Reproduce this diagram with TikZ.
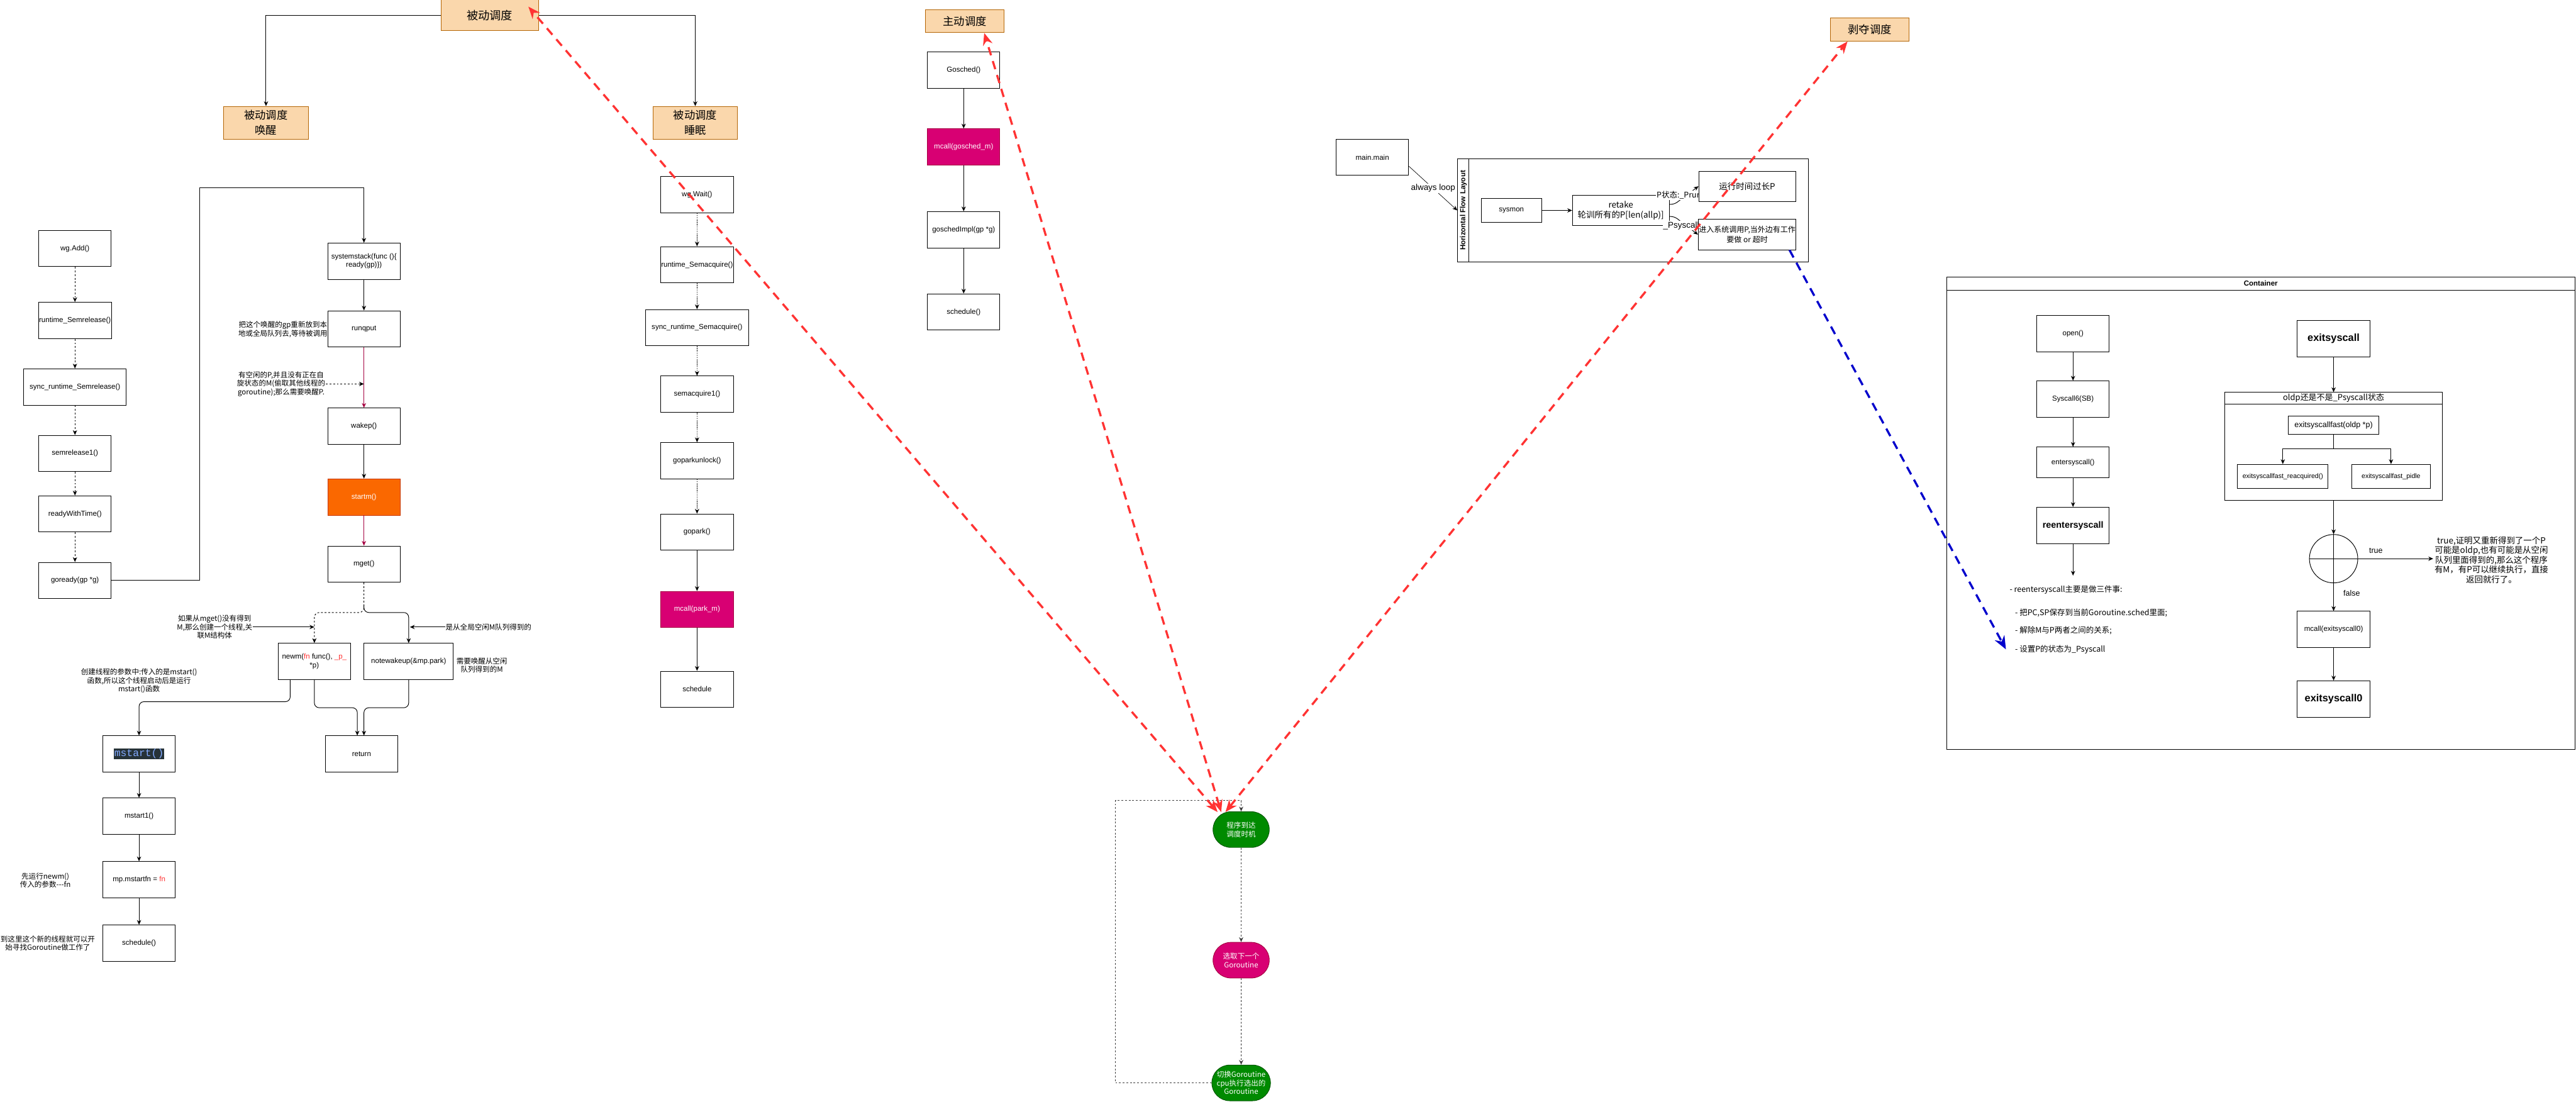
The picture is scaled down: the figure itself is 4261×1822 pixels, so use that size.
\documentclass[tikz,border=0pt]{standalone}
\usepackage{fontspec}
\setmainfont{Liberation Sans}
\setmonofont{Liberation Mono}
\newfontfamily\cjk{Noto Sans CJK SC}
\usetikzlibrary{arrows.meta,shapes.misc}
\definecolor{catfill}{HTML}{FAD7AC}
\definecolor{catdraw}{HTML}{B46504}
\definecolor{magfill}{HTML}{D80073}
\definecolor{magdraw}{HTML}{A50040}
\definecolor{orgfill}{HTML}{FA6800}
\definecolor{orgdraw}{HTML}{C73500}
\definecolor{grnfill}{HTML}{008A00}
\definecolor{grndraw}{HTML}{005700}
\definecolor{purp}{HTML}{A50040}
\definecolor{redc}{HTML}{FF3333}
\definecolor{bluec}{HTML}{0000CC}
\definecolor{codebg}{HTML}{263238}
\definecolor{codefg}{HTML}{82AAFF}
\pgfdeclarelayer{fg}
\pgfdeclarelayer{top}
\pgfsetlayers{main,fg,top}
\begin{document}
\begin{tikzpicture}[x=1pt,y=-1pt,
  nbox/.style={draw=black, line width=1pt, fill=white, minimum width=120pt, minimum height=60pt, inner sep=1pt, align=center, font=\fontsize{12}{14}\selectfont},
  cbox/.style={nbox, font=\cjk\fontsize{12}{14}\selectfont},
  catbox/.style={draw=catdraw, fill=catfill, line width=1pt, align=center, inner sep=0pt, font=\cjk\fontsize{18}{25}\selectfont},
  magbox/.style={nbox, fill=magfill, draw=magdraw, text=white},
  lbl/.style={align=center, inner sep=1pt, font=\cjk\fontsize{12}{14}\selectfont},
  arr/.style={line width=1pt, -{Stealth[length=8pt,width=7pt]}},
  thinarr/.style={line width=0.7pt, -{Stealth[length=8pt,width=7pt]}},
  darr/.style={arr, dash pattern=on 3pt off 3pt},
  dotarr/.style={arr, line width=1.2pt, dash pattern=on 1.5pt off 1.5pt},
  parr/.style={arr, draw=purp},
  gdarr/.style={arr, draw=black!75, dash pattern=on 3pt off 3pt},
  gnode/.style={rounded rectangle, draw=grndraw, fill=grnfill, line width=1pt, minimum width=95pt, minimum height=59pt, text=white, align=center, inner sep=1pt, font=\cjk\fontsize{12}{14}\selectfont},
  redarr/.style={draw=redc, line width=3.5pt, dash pattern=on 14pt off 10pt, {Stealth[length=20pt,width=16pt]}-{Stealth[length=20pt,width=16pt]}},
  bluearr/.style={draw=bluec, line width=3.5pt, dash pattern=on 14pt off 10pt, -{Stealth[length=22pt,width=18pt]}}
]
\useasboundingbox (0,0) rectangle (4261,1822);
\fill[white] (0,0) rectangle (4261,1822);

% ---------- category boxes
\node[catbox, minimum width=161pt, minimum height=51pt, font=\cjk\fontsize{19}{22}\selectfont] (bd) at (810,25) {被动调度};
\node[catbox, minimum width=140pt, minimum height=54pt] (bdh) at (440,203) {被动调度\\唤醒};
\node[catbox, minimum width=140pt, minimum height=54pt] (bds) at (1150,203) {被动调度\\睡眠};
\node[catbox, minimum width=130pt, minimum height=38pt] (zd) at (1596,35) {主动调度};
\node[catbox, minimum width=130pt, minimum height=38pt] (bo) at (3093,49) {剥夺调度};
\draw[arr] (bd.west) -| (bdh.north);
\draw[arr] (bd.east) -| (bds.north);

% ---------- wake column
\node[nbox] (wgadd) at (124,411) {wg.Add()};
\node[nbox] (semrel) at (124,530) {runtime\_Semrelease()};
\node[nbox, minimum width=170pt] (ssemrel) at (124,640) {sync\_runtime\_Semrelease()};
\node[nbox] (semrel1) at (124,750) {semrelease1()};
\node[nbox] (rwt) at (124,850) {readyWithTime()};
\node[nbox] (goready) at (124,960) {goready(gp *g)};
\draw[darr] (wgadd) -- (semrel);
\draw[darr] (semrel) -- (ssemrel);
\draw[darr] (ssemrel) -- (semrel1);
\draw[darr] (semrel1) -- (rwt);
\draw[darr] (rwt) -- (goready);

\node[nbox] (sysstk) at (602,432) {systemstack(func ()\{\\ready(gp)\})};
\node[nbox] (runqput) at (602,544) {runqput};
\node[nbox] (wakep) at (602,705) {wakep()};
\node[nbox, fill=orgfill, draw=orgdraw, text=white] (startm) at (602,822) {startm()};
\node[nbox] (mget) at (602,933) {mget()};
\draw[arr] (goready.east) -- (330,960) -- (330,310) -| (sysstk.north);
\draw[arr] (sysstk) -- (runqput);
\draw[parr] (runqput) -- (wakep);
\draw[arr] (wakep) -- (startm);
\draw[parr] (startm) -- (mget);
\node[lbl] (lrq) at (468,545) {把这个唤醒的gp重新放到本\\地或全局队列去,等待被调用};
\node[lbl] (lwk) at (465,635) {有空闲的P,并且没有正在自\\旋状态的M(偷取其他线程的\\goroutine);那么需要唤醒P.};
\coordinate (wkpt) at (602,635);
\draw[darr] (lwk.east) -- (wkpt);

\node[nbox] (newm) at (520,1094) {newm(\textcolor{redc}{fn} func(), \textcolor{redc}{\_p\_}\\*p)};
\node[nbox, minimum width=148pt] (notew) at (676,1094) {notewakeup(\&mp.park)};
\coordinate (split) at (602,1000);
\draw[darr, rounded corners=8pt] (mget.south) |- (520,1013) -- (newm.north);
\draw[arr, rounded corners=8pt] (split) |- (676,1013) -- (notew.north);
\node[lbl] (lnm) at (355,1037) {如果从mget()没有得到\\M,那么创建一个线程,关\\联M结构体};
\coordinate (nmpt) at (520,1037);
\draw[arr] (lnm.east) -- (nmpt);
\node[lbl, anchor=west] (lgm) at (736,1037) {是从全局空闲M队列得到的};
\coordinate (gmpt) at (678,1037);
\draw[arr] (lgm.west) -- (gmpt);
\node[lbl] (lnw) at (797,1100) {需要唤醒从空闲\\队列得到的M};
\node[lbl] (lms) at (230,1126) {创建线程的参数中:传入的是mstart()\\函数,所以这个线程启动后是运行\\mstart()函数};

\node[nbox] (ret) at (598,1247) {return};
\node[nbox] (mstart) at (230,1247) {\setlength\fboxsep{1pt}\colorbox{codebg}{\textcolor{codefg}{\ttfamily\fontsize{17}{19}\selectfont mstart()}}};
\draw[arr, rounded corners=8pt] ([xshift=-40pt]newm.south) -- ++(0,36) -| (mstart.north);
\draw[arr, rounded corners=8pt] (newm.south) -- ++(0,46) -| ([xshift=-7pt]ret.north);
\draw[arr, rounded corners=8pt] (notew.south) -- ++(0,46) -| ([xshift=4pt]ret.north);
\node[nbox] (mstart1) at (230,1350) {mstart1()};
\node[nbox] (mfn) at (230,1455) {mp.mstartfn = \textcolor{redc}{fn}};
\node[nbox] (sched1) at (230,1560) {schedule()};
\draw[arr] (mstart) -- (mstart1);
\draw[arr] (mstart1) -- (mfn);
\draw[arr] (mfn) -- (sched1);
\node[lbl] (lfn) at (75,1456) {先运行newm()\\传入的参数-{}-{}-fn};
\node[lbl] (lsc) at (79,1560) {到这里这个新的线程就可以开\\始寻找Goroutine做工作了};

% ---------- sleep column
\node[nbox] (wgw) at (1153,322) {wg.Wait()};
\node[nbox] (rsa) at (1153,438) {runtime\_Semacquire()};
\node[nbox, minimum width=170pt] (ssa) at (1153,542) {sync\_runtime\_Semacquire()};
\node[nbox] (sa1) at (1153,652) {semacquire1()};
\node[nbox] (gpu) at (1153,762) {goparkunlock()};
\node[nbox] (gpk) at (1153,880) {gopark()};
\node[magbox] (mpm) at (1153,1008) {mcall(park\_m)};
\node[nbox] (sch3) at (1153,1140) {schedule};
\draw[dotarr] (wgw) -- (rsa);
\draw[dotarr] (rsa) -- (ssa);
\draw[dotarr] (ssa) -- (sa1);
\draw[dotarr] (sa1) -- (gpu);
\draw[dotarr] (gpu) -- (gpk);
\draw[arr] (gpk) -- (mpm);
\draw[arr] (mpm) -- (sch3);

% ---------- active column
\node[nbox] (gosched) at (1594,116) {Gosched()};
\node[magbox] (mgs) at (1594,243) {mcall(gosched\_m)};
\node[nbox] (gsi) at (1594,380) {goschedImpl(gp *g)};
\node[nbox] (sch2) at (1594,516) {schedule()};
\draw[arr] (gosched) -- (mgs);
\draw[arr] (mgs) -- (gsi);
\draw[arr] (gsi) -- (sch2);

% ---------- scheduling loop
\node[gnode] (n1) at (2053,1372) {程序到达\\调度时机};
\node[gnode, fill=magfill, draw=magdraw] (n2) at (2053,1588) {选取下一个\\Goroutine};
\node[gnode] (n3) at (2053,1791) {切换Goroutine\\cpu执行选出的\\Goroutine};
\draw[gdarr] (n1) -- (n2);
\draw[gdarr] (n2) -- (n3);
\draw[gdarr] (n3.west) -| (1845,1324) -| (n1.north);

% ---------- sysmon
\node[nbox] (mm) at (2270,260) {main.main};
\node[draw, line width=1pt, minimum width=580pt, minimum height=170pt, inner sep=0pt] (pool) at (2701,348) {};
\draw[line width=1pt] ([xshift=19pt]pool.north west) -- ([xshift=19pt]pool.south west);
\node[rotate=90, font=\bfseries\fontsize{12}{14}\selectfont] (pooltitle) at (2420.5,348) {Horizontal Flow Layout};
\draw[thinarr] ([yshift=-15pt]mm.east) -- (pool.west) node[midway, fill=white, inner sep=1pt, font=\fontsize{14}{16}\selectfont] (aloop) {always loop};
\node[nbox, minimum width=100pt, minimum height=40pt] (sysmon) at (2500,348) {sysmon};
\node[nbox, minimum width=160pt, minimum height=50pt, font=\cjk\fontsize{14}{17}\selectfont] (retake) at (2681,348) {retake\\轮训所有的P[len(allp)]};
\begin{pgfonlayer}{fg}
\node[nbox, minimum width=160pt, minimum height=50pt, font=\cjk\fontsize{14}{17}\selectfont] (runp) at (2890,308) {运行时间过长P};
\node[nbox, minimum width=160pt, minimum height=50pt, font=\cjk\fontsize{12.5}{16}\selectfont] (sysp) at (2890,388) {进入系统调用P,当外边有工作\\要做 or 超时};
\end{pgfonlayer}
\draw[arr] (sysmon) -- (retake);
\draw[arr, rounded corners=6pt] ([yshift=10pt]retake.east) -- ++(8,0) -- (runp.west);
\draw[arr, rounded corners=6pt] ([yshift=-10pt]retake.east) -- ++(8,0) -- (sysp.west);
\node[anchor=west, fill=white, inner sep=1pt, font=\cjk\fontsize{13}{15}\selectfont] (lprun) at (2739,323) {P状态:\_Prunning};
\node[anchor=west, fill=white, inner sep=1pt, font=\fontsize{14}{16}\selectfont] (lpsys) at (2750,373) {\_Psyscall};

% ---------- container
\node[draw, line width=1pt, minimum width=1039pt, minimum height=781pt, inner sep=0pt] (cont) at (3739.5,848.5) {};
\draw[line width=1pt] ([yshift=-23pt]cont.north west) -- ([yshift=-23pt]cont.north east);
\node[font=\bfseries\fontsize{12}{14}\selectfont] (conttitle) at ([yshift=-11.5pt]cont.north) {Container};

\node[nbox] (open) at (3429,552) {open()};
\node[nbox] (sys6) at (3429,660) {Syscall6(SB)};
\node[nbox, minimum height=51pt] (ent) at (3429,765) {entersyscall()};
\node[nbox, font=\bfseries\fontsize{15}{17}\selectfont] (reent) at (3429,869) {reentersyscall};
\draw[arr] (open) -- (sys6);
\draw[arr] (sys6) -- (ent);
\draw[arr] (ent) -- (reent);
\coordinate (reentend) at (3429,952);
\draw[arr] (reent.south) -- (reentend);
\node[anchor=west, inner sep=1pt, font=\cjk\fontsize{13}{15}\selectfont] (c0) at (3323,975) {- reentersyscall主要是做三件事:};
\node[anchor=west, inner sep=1pt, font=\cjk\fontsize{13}{15}\selectfont] (c1) at (3332,1014) {- 把PC,SP保存到当前Goroutine.sched里面;};
\node[anchor=west, inner sep=1pt, font=\cjk\fontsize{13}{15}\selectfont] (c2) at (3332,1043) {- 解除M与P两者之间的关系;};
\node[anchor=west, inner sep=1pt, font=\cjk\fontsize{13}{15}\selectfont] (c3) at (3332,1074) {- 设置P的状态为\_Psyscall};

\node[nbox, font=\bfseries\fontsize{17}{19}\selectfont] (exs) at (3860,560) {exitsyscall};
\node[draw, line width=1pt, minimum width=360pt, minimum height=179pt, inner sep=0pt] (oldpc) at (3860,738.5) {};
\draw[line width=1pt] ([yshift=-20pt]oldpc.north west) -- ([yshift=-20pt]oldpc.north east);
\node[font=\cjk\fontsize{13.5}{15}\selectfont] (oldptitle) at ([yshift=-10pt]oldpc.north) {oldp还是不是\_Psyscall状态};
\node[nbox, minimum width=150pt, minimum height=30pt, font=\fontsize{13}{15}\selectfont] (efast) at (3860,703) {exitsyscallfast(oldp *p)};
\node[nbox, minimum width=150pt, minimum height=40pt, font=\fontsize{11}{13}\selectfont] (efr) at (3776,788) {exitsyscallfast\_reacquired()};
\node[nbox, minimum width=130pt, minimum height=40pt, font=\fontsize{11}{13}\selectfont] (efp) at (3955,788) {exitsyscallfast\_pidle};
\draw[arr] (efast.south) -- ++(0,24) -| (efr.north);
\draw[arr] (efast.south) -- ++(0,24) -| (efp.north);
\draw[arr] (exs) -- (oldpc.north);
\node[circle, draw, line width=1pt, minimum size=80pt, inner sep=0pt] (circ) at (3860,924) {};
\draw[line width=1pt] (circ.north) -- (circ.south);
\draw[line width=1pt] (circ.west) -- (circ.east);
\draw[arr] (oldpc.south) -- (circ.north);
\node[align=center, inner sep=2pt, font=\cjk\fontsize{14}{16}\selectfont] (truetxt) at (4121,926) {true,证明又重新得到了一个P\\可能是oldp,也有可能是从空闲\\队列里面得到的,那么这个程序\\有M，有P可以继续执行，直接\\返回就行了。};
\draw[arr] (circ.east) -- (circ.east -| truetxt.west);
\node[font=\fontsize{13}{15}\selectfont] (ltrue) at (3930,911) {true};
\node[nbox] (mce) at (3860,1041) {mcall(exitsyscall0)};
\draw[arr] (circ.south) -- (mce.north);
\node[font=\fontsize{13}{15}\selectfont] (lfalse) at (3890,981) {false};
\node[nbox, font=\bfseries\fontsize{17}{19}\selectfont] (exs0) at (3860,1156) {exitsyscall0};
\draw[arr] (mce) -- (exs0);

% ---------- highlight connectors
\begin{pgfonlayer}{top}
\draw[redarr] ([xshift=-39pt,yshift=-1pt]n1.north) -- ([xshift=-17pt,yshift=-12pt]bd.north east);
\draw[redarr] ([xshift=-33pt,yshift=-1pt]n1.north) -- ([xshift=32pt]zd.south);
\draw[redarr] ([xshift=-26pt,yshift=-1pt]n1.north) -- ([xshift=-37pt]bo.south);
\draw[bluearr] ([xshift=70pt]sysp.south) -- ([xshift=-14pt]c3.west);
\end{pgfonlayer}
\end{tikzpicture}
\end{document}
